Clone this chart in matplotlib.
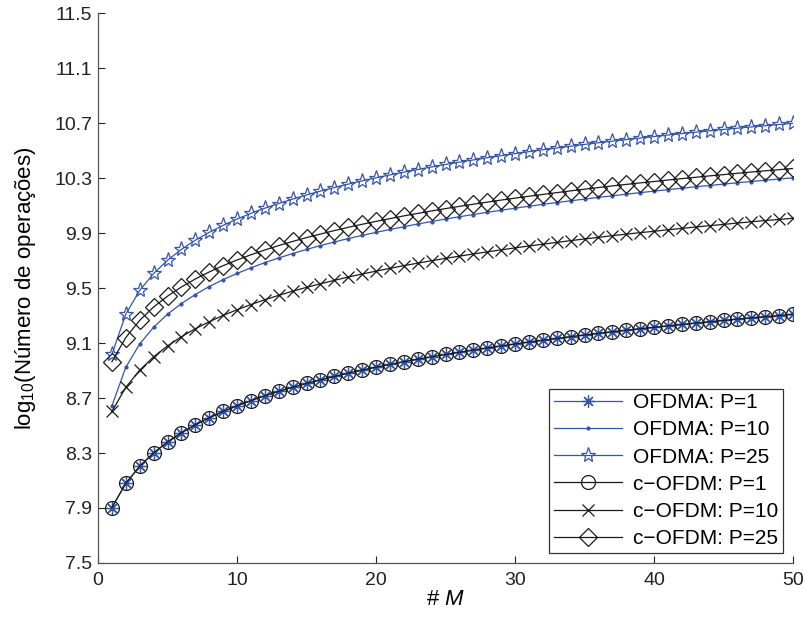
import matplotlib
matplotlib.use("Agg")
import matplotlib.pyplot as plt

plt.rcParams["font.family"] = ["Liberation Sans", "DejaVu Sans"]
plt.rcParams["mathtext.fontset"] = "custom"
plt.rcParams["mathtext.rm"] = "Liberation Sans"
plt.rcParams["mathtext.it"] = "Liberation Sans:italic"

M = list(range(1, 51))

# log10(number of operations)
ofdma_p1 = [7.903, 8.079, 8.204, 8.301, 8.380, 8.447, 8.505, 8.556, 8.602, 8.643,
            8.681, 8.716, 8.748, 8.778, 8.806, 8.832, 8.857, 8.881, 8.903, 8.924,
            8.944, 8.964, 8.982, 9.000, 9.017, 9.033, 9.049, 9.064, 9.079, 9.093,
            9.107, 9.120, 9.133, 9.146, 9.158, 9.170, 9.182, 9.193, 9.204, 9.214,
            9.225, 9.235, 9.245, 9.255, 9.264, 9.274, 9.283, 9.292, 9.300, 9.309]
ofdma_p10 = [8.643, 8.924, 9.093, 9.215, 9.310, 9.387, 9.453, 9.511, 9.561, 9.606,
             9.647, 9.685, 9.719, 9.751, 9.781, 9.809, 9.835, 9.860, 9.883, 9.905,
             9.926, 9.946, 9.966, 9.984, 10.002, 10.019, 10.035, 10.051, 10.066, 10.081,
             10.095, 10.109, 10.122, 10.135, 10.147, 10.160, 10.171, 10.183, 10.194, 10.205,
             10.216, 10.226, 10.237, 10.246, 10.256, 10.266, 10.275, 10.284, 10.293, 10.302]
ofdma_p25 = [9.017, 9.310, 9.483, 9.606, 9.702, 9.781, 9.848, 9.905, 9.956, 10.002,
             10.043, 10.081, 10.115, 10.147, 10.177, 10.205, 10.231, 10.256, 10.280, 10.302,
             10.323, 10.343, 10.362, 10.381, 10.399, 10.416, 10.432, 10.448, 10.463, 10.478,
             10.492, 10.506, 10.519, 10.532, 10.545, 10.557, 10.569, 10.580, 10.591, 10.602,
             10.613, 10.624, 10.634, 10.644, 10.654, 10.663, 10.672, 10.681, 10.690, 10.699]
cofdm_p1 = [7.903, 8.079, 8.204, 8.301, 8.380, 8.447, 8.505, 8.556, 8.602, 8.643,
            8.681, 8.716, 8.748, 8.778, 8.806, 8.832, 8.857, 8.881, 8.903, 8.924,
            8.944, 8.964, 8.982, 9.000, 9.017, 9.033, 9.049, 9.064, 9.079, 9.093,
            9.107, 9.120, 9.133, 9.146, 9.158, 9.170, 9.182, 9.193, 9.204, 9.214,
            9.225, 9.235, 9.245, 9.255, 9.264, 9.274, 9.283, 9.292, 9.300, 9.309]
cofdm_p10 = [8.602, 8.778, 8.903, 9.000, 9.079, 9.146, 9.204, 9.255, 9.301, 9.342,
             9.380, 9.415, 9.447, 9.477, 9.505, 9.531, 9.556, 9.580, 9.602, 9.623,
             9.643, 9.663, 9.681, 9.699, 9.716, 9.732, 9.748, 9.763, 9.778, 9.792,
             9.806, 9.819, 9.832, 9.845, 9.857, 9.869, 9.881, 9.892, 9.903, 9.913,
             9.924, 9.934, 9.944, 9.954, 9.963, 9.973, 9.982, 9.991, 9.999, 10.008]
cofdm_p25 = [8.964, 9.140, 9.265, 9.362, 9.441, 9.508, 9.566, 9.617, 9.663, 9.704,
             9.742, 9.777, 9.809, 9.839, 9.867, 9.893, 9.918, 9.942, 9.964, 9.985,
             10.005, 10.025, 10.043, 10.061, 10.078, 10.094, 10.110, 10.125, 10.140, 10.154,
             10.168, 10.181, 10.194, 10.207, 10.219, 10.231, 10.243, 10.254, 10.265, 10.275,
             10.286, 10.296, 10.306, 10.316, 10.325, 10.335, 10.344, 10.353, 10.361, 10.370]

Y_TICKS = [7.5, 7.9, 8.3, 8.7, 9.1, 9.5, 9.9, 10.3, 10.7, 11.1, 11.5]
X_TICKS = [0, 10, 20, 30, 40, 50]

BLUE = "#3355aa"
BLACK = "#1a1a1a"

fig = plt.figure(figsize=(8.04, 6.22), dpi=100)
ax = fig.add_axes([0.1219, 0.0949, 0.8645, 0.884])

lw = 0.9
ax.plot(M, ofdma_p1, color=BLUE, lw=lw, marker=(8, 2, 0), ms=9, mew=0.9,
        label="OFDMA: P=1")
ax.plot(M, ofdma_p10, color=BLUE, lw=lw, marker="o", ms=3, mew=0,
        label="OFDMA: P=10")
ax.plot(M, ofdma_p25, color=BLUE, lw=lw, marker="*", ms=11, mew=0.9,
        mfc="none", label="OFDMA: P=25")
ax.plot(M, cofdm_p1, color=BLACK, lw=lw, marker="o", ms=10, mew=0.9,
        mfc="none", label="c\u2212OFDM: P=1")
ax.plot(M, cofdm_p10, color=BLACK, lw=lw, marker="x", ms=8, mew=0.9,
        label="c\u2212OFDM: P=10")
ax.plot(M, cofdm_p25, color=BLACK, lw=lw, marker="D", ms=9, mew=0.9,
        mfc="none", label="c\u2212OFDM: P=25")

ax.set_xlim(0, 50)
ax.set_ylim(7.5, 11.5)
ax.set_xticks(X_TICKS)
ax.set_yticks(Y_TICKS)
ax.set_yticklabels([f"{v:.1f}" for v in Y_TICKS])
ax.tick_params(direction="in", labelsize=14, length=5, width=0.8, colors="#222222")
ax.tick_params(axis="y", pad=4)
ax.tick_params(axis="x", pad=6.5)
for s in ["top", "right"]:
    ax.spines[s].set_visible(False)
for s in ["left", "bottom"]:
    ax.spines[s].set_color("#555555")
    ax.spines[s].set_linewidth(0.9)

ax.set_xlabel("# $\\mathit{M}$", fontsize=16, labelpad=0)
ax.set_ylabel("log$_{10}$(Número de operações)", fontsize=16, labelpad=12)

leg = ax.legend(loc="lower right", fontsize=15, frameon=True, fancybox=False,
                edgecolor="black", handlelength=3.3, borderpad=0.22,
                labelspacing=0.39, handletextpad=0.5, borderaxespad=0.5)
leg.get_frame().set_linewidth(0.9)

fig.savefig("out.png", dpi=100)
